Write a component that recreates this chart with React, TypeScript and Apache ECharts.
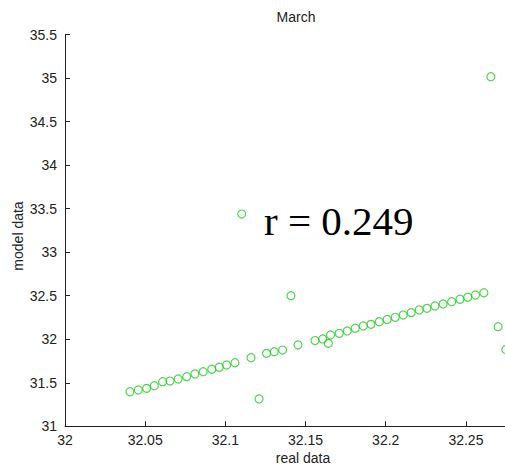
import React, { useEffect, useRef } from "react";
import * as echarts from "echarts";

const realData: number[] = [
  32.0405, 32.0457, 32.0509, 32.0557, 32.0609, 32.0655, 32.0706, 32.0759, 32.081, 32.0862,
  32.0915, 32.0962, 32.1008, 32.106, 32.116, 32.1257, 32.1305, 32.1357, 32.1453, 32.1559,
  32.1607, 32.1656, 32.171, 32.176, 32.181, 32.186, 32.1908, 32.196, 32.2009, 32.2059,
  32.2109, 32.2159, 32.2209, 32.2257, 32.2307, 32.2358, 32.2411, 32.2463, 32.2511, 32.256,
  32.2612,
  32.121, 32.1409, 32.1642, 32.1102, 32.2656, 32.2701, 32.2749,
];
const modelData: number[] = [
  31.397, 31.417, 31.436, 31.466, 31.512, 31.52, 31.543, 31.57, 31.601, 31.627,
  31.655, 31.678, 31.704, 31.73, 31.788, 31.838, 31.857, 31.876, 31.934, 31.985,
  32.003, 32.049, 32.068, 32.095, 32.126, 32.152, 32.171, 32.201, 32.227, 32.252,
  32.278, 32.305, 32.336, 32.355, 32.382, 32.405, 32.431, 32.459, 32.482, 32.508,
  32.534,
  31.314, 32.5, 31.953, 33.438, 35.015, 32.144, 31.882,
];

const titleText = "March";
const xLabel = "real data";
const yLabel = "model data";
const rText = "r = 0.249";

export default function App() {
  const ref = useRef<HTMLDivElement>(null);
  useEffect(() => {
    if (!ref.current) return;
    const chart = echarts.init(ref.current, null, { renderer: "svg" });
    const pts = realData.map((x, i) => [x, modelData[i]]);
    const textColor = "#222";
    chart.setOption({
      animation: false,
      backgroundColor: "#fff",
      grid: { left: 65, top: 34.5, right: 0, bottom: 40.7, containLabel: false },
      xAxis: {
        type: "value",
        min: 32,
        max: 32.28,
        interval: 0.05,
        axisLine: { show: true, onZero: false, lineStyle: { color: "#222", width: 1 } },
        axisTick: { show: true, inside: true, length: 5, lineStyle: { color: "#222" } },
        axisLabel: {
          showMaxLabel: false,
          margin: 7,
          color: textColor,
          fontSize: 14,
          fontFamily: "Liberation Sans, Arial, sans-serif",
        },
        splitLine: { show: false },
      },
      yAxis: {
        type: "value",
        min: 31,
        max: 35.5,
        interval: 0.5,
        axisLine: { show: true, onZero: false, lineStyle: { color: "#222", width: 1 } },
        axisTick: { show: true, inside: true, length: 5, lineStyle: { color: "#222" } },
        axisLabel: {
          margin: 8,
          color: textColor,
          fontSize: 14,
          fontFamily: "Liberation Sans, Arial, sans-serif",
        },
        splitLine: { show: false },
      },
      series: [
        {
          type: "scatter",
          data: pts,
          clip: false,
          symbol: "circle",
          symbolSize: 8,
          itemStyle: { color: "rgba(0,0,0,0)", borderColor: "#22cc22", borderWidth: 1.2 },
        },
      ],
      graphic: [
        {
          type: "text",
          x: 296,
          y: 17,
          style: {
            text: titleText,
            fill: textColor,
            font: "14px 'Liberation Sans', Arial, sans-serif",
            textAlign: "center",
            textVerticalAlign: "middle",
          },
        },
        {
          type: "text",
          x: 303,
          y: 458,
          style: {
            text: xLabel,
            fill: textColor,
            font: "14px 'Liberation Sans', Arial, sans-serif",
            textAlign: "center",
            textVerticalAlign: "middle",
          },
        },
        {
          type: "text",
          x: 18,
          y: 236,
          rotation: Math.PI / 2,
          style: {
            text: yLabel,
            fill: textColor,
            font: "14px 'Liberation Sans', Arial, sans-serif",
            textAlign: "center",
            textVerticalAlign: "middle",
          },
        },
        {
          type: "text",
          x: 264,
          y: 221,
          style: {
            text: rText,
            fill: "#000",
            font: "41px 'Liberation Serif', 'Times New Roman', serif",
            textAlign: "left",
            textVerticalAlign: "middle",
          },
        },
      ],
    });
    return () => chart.dispose();
  }, []);
  return (
    <div style={{ position: "fixed", left: 0, top: 0, width: 505, height: 467, overflow: "hidden" }}>
      <div ref={ref} style={{ width: 514.1, height: 467 }} />
    </div>
  );
}
